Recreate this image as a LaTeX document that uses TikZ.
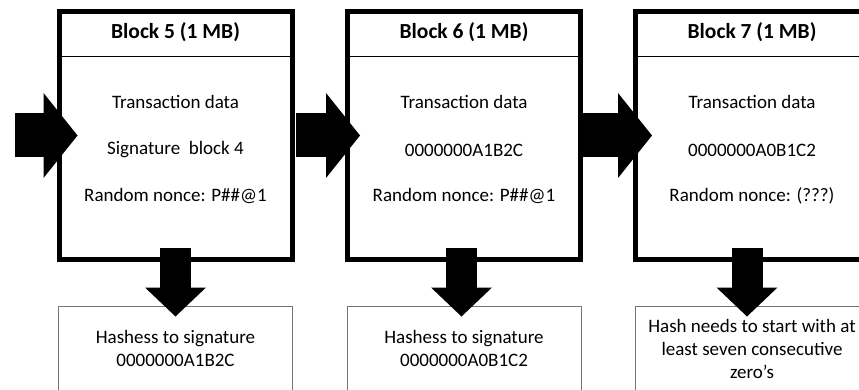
\documentclass[tikz,border=0pt]{standalone}
\usepackage{fontspec}
\setmainfont{Carlito}
\usetikzlibrary{arrows.meta}

\tikzset{
  blockbox/.style={draw,line width=5pt,minimum width=233pt,minimum height=248pt,inner sep=0pt},
  headtext/.style={font=\fontsize{21.5}{26}\selectfont\bfseries},
  hashbox/.style={draw=black!55,line width=1pt,minimum width=234pt,minimum height=85pt,
    align=center,inner sep=0pt},
  fatarrow/.style={line width=44pt,-{Triangle[length=34pt,width=85pt,line width=0pt]}},
  downarrow/.style={line width=31pt,-{Triangle[length=29pt,width=61pt,line width=0pt]}},
}
\newcommand{\bodysize}{\fontsize{19}{23}\selectfont}

\begin{document}
\begin{tikzpicture}[x=1pt,y=-1pt]
  \useasboundingbox (0,0) rectangle (859,390);
  \bodysize

  % Block 5
  \begin{scope}[xshift=175.5pt]
    \node[blockbox] (b5) at (0,135.5) {};
    \draw[line width=1pt] (b5.west |- 0,57) -- (b5.east |- 0,57);
    \node[headtext] (b5head) at (0,32) {Block 5 (1 MB)};
    \node (b5data) at (0,102) {Transaction data};
    \node (b5sig) at (0,150) {Signature\ \ block 4};
    \node (b5nonce) at (0,196) {Random nonce: P\#\#@1};
    \node[hashbox] (h5) at (0,348.5) {Hashess to signature\\0000000A1B2C};
  \end{scope}

  % Block 6
  \begin{scope}[xshift=464pt]
    \node[blockbox] (b6) at (0,135.5) {};
    \draw[line width=1pt] (b6.west |- 0,57) -- (b6.east |- 0,57);
    \node[headtext] (b6head) at (0,32) {Block 6 (1 MB)};
    \node (b6data) at (0,102) {Transaction data};
    \node (b6sig) at (0,150) {0000000A1B2C};
    \node (b6nonce) at (0,196) {Random nonce: P\#\#@1};
    \node[hashbox] (h6) at (0,348.5) {Hashess to signature\\0000000A0B1C2};
  \end{scope}

  % Block 7
  \begin{scope}[xshift=752pt]
    \node[blockbox] (b7) at (0,135.5) {};
    \draw[line width=1pt] (b7.west |- 0,57) -- (b7.east |- 0,57);
    \node[headtext] (b7head) at (0,32) {Block 7 (1 MB)};
    \node (b7data) at (0,102) {Transaction data};
    \node (b7sig) at (0,150) {0000000A0B1C2};
    \node (b7nonce) at (0,196) {Random nonce: (???)};
    \node[hashbox] (h7) at (0,348.5) {Hash needs to start with at\\least seven consecutive\\zero’s};
  \end{scope}

  % chain arrows
  \coordinate (in) at (15,135.5);
  \draw[fatarrow,shorten >=-21pt] (in) -- (b5.west);
  \draw[fatarrow,shorten <=1pt,shorten >=-15pt] (b5.east) -- (b6.west);
  \draw[fatarrow,shorten >=-19pt] (b6.east) -- (b7.west);

  % hash arrows
  \draw[downarrow,shorten <=-14pt,shorten >=-11pt] (b5.south) -- (h5.north);
  \draw[downarrow,shorten <=-14pt,shorten >=-11pt]
    ([xshift=-2.5pt]b6.south) -- ([xshift=-2.5pt]h6.north);
  \draw[downarrow,shorten <=-14pt,shorten >=-11pt]
    ([xshift=-5pt]b7.south) -- ([xshift=-5pt]h7.north);
\end{tikzpicture}
\end{document}
